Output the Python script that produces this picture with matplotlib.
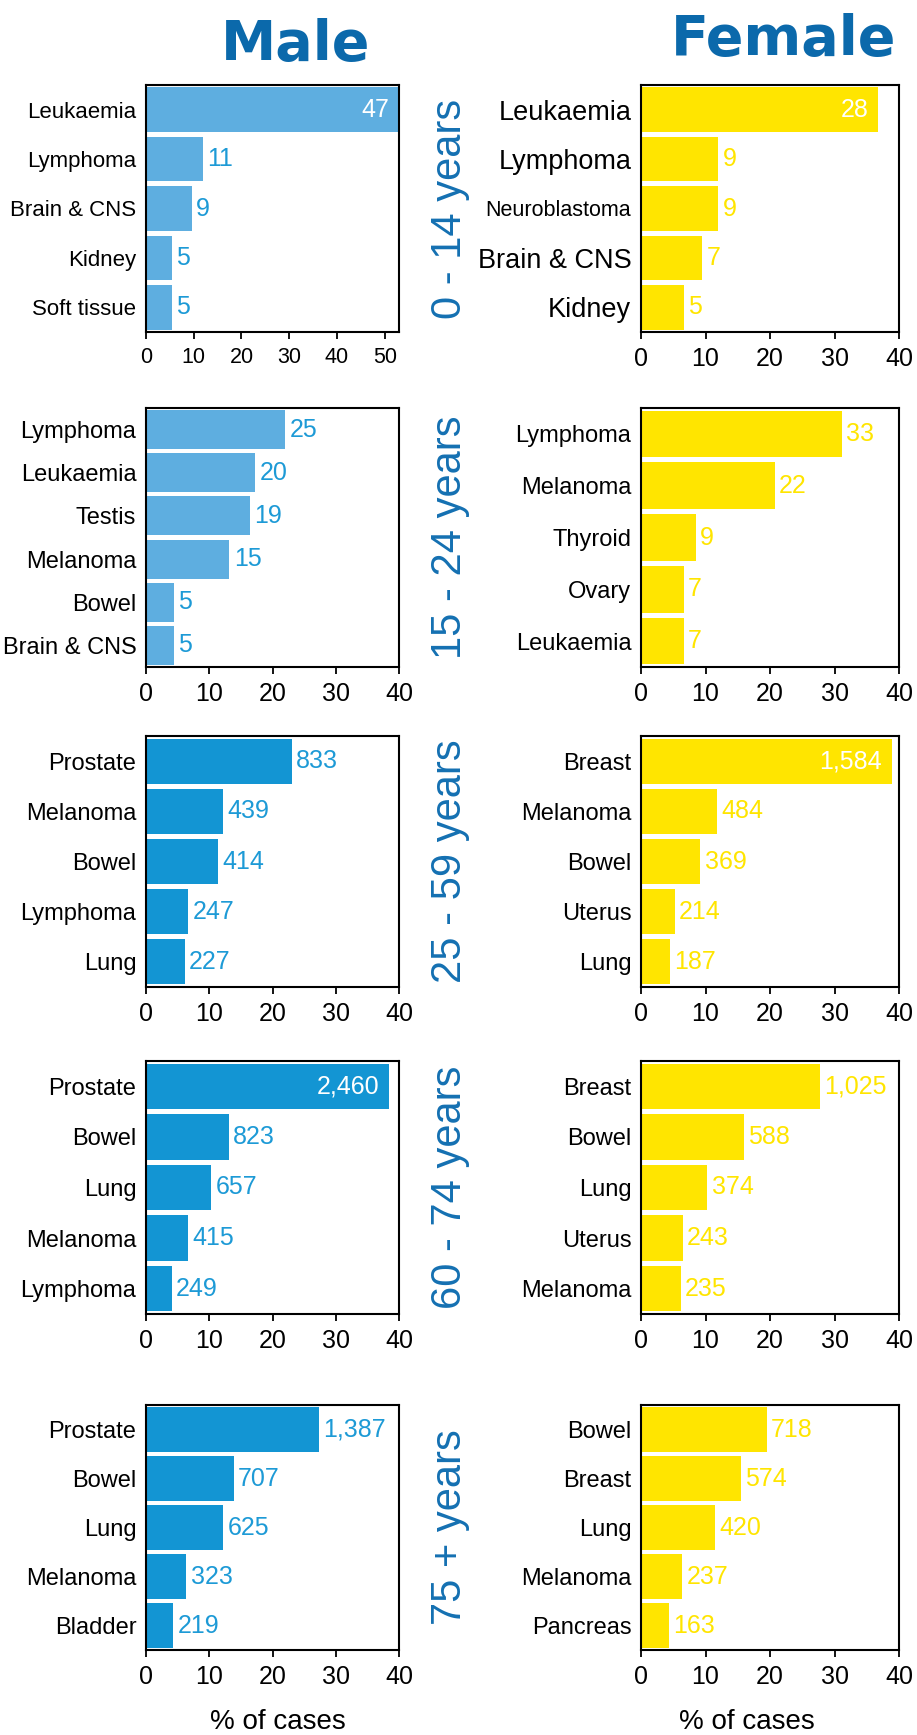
import matplotlib.pyplot as plt
from matplotlib import font_manager

names = {f.name for f in font_manager.fontManager.ttflist}
narrow = 'Liberation Sans Narrow' if 'Liberation Sans Narrow' in names else 'Liberation Sans'
plt.rcParams['font.family'] = 'Liberation Sans'

age_groups = ['0 - 14 years', '15 - 24 years', '25 - 59 years', '60 - 74 years', '75 + years']

# male, per age group: categories, % of cases (bar length), number of cases (label)
male_cats_0_14 = ['Leukaemia', 'Lymphoma', 'Brain & CNS', 'Kidney', 'Soft tissue']
male_pct_0_14 = [54, 11.9, 9.6, 5.4, 5.4]
male_cases_0_14 = ['47', '11', '9', '5', '5']

male_cats_15_24 = ['Lymphoma', 'Leukaemia', 'Testis', 'Melanoma', 'Bowel', 'Brain & CNS']
male_pct_15_24 = [22.0, 17.3, 16.5, 13.2, 4.4, 4.4]
male_cases_15_24 = ['25', '20', '19', '15', '5', '5']

male_cats_25_59 = ['Prostate', 'Melanoma', 'Bowel', 'Lymphoma', 'Lung']
male_pct_25_59 = [23.1, 12.2, 11.4, 6.7, 6.1]
male_cases_25_59 = ['833', '439', '414', '247', '227']

male_cats_60_74 = ['Prostate', 'Bowel', 'Lung', 'Melanoma', 'Lymphoma']
male_pct_60_74 = [38.4, 13.1, 10.3, 6.6, 4.1]
male_cases_60_74 = ['2,460', '823', '657', '415', '249']

male_cats_75 = ['Prostate', 'Bowel', 'Lung', 'Melanoma', 'Bladder']
male_pct_75 = [27.4, 13.9, 12.2, 6.4, 4.3]
male_cases_75 = ['1,387', '707', '625', '323', '219']

# female
female_cats_0_14 = ['Leukaemia', 'Lymphoma', 'Neuroblastoma', 'Brain & CNS', 'Kidney']
female_pct_0_14 = [36.8, 12.0, 12.0, 9.5, 6.6]
female_cases_0_14 = ['28', '9', '9', '7', '5']

female_cats_15_24 = ['Lymphoma', 'Melanoma', 'Thyroid', 'Ovary', 'Leukaemia']
female_pct_15_24 = [31.1, 20.7, 8.5, 6.6, 6.6]
female_cases_15_24 = ['33', '22', '9', '7', '7']

female_cats_25_59 = ['Breast', 'Melanoma', 'Bowel', 'Uterus', 'Lung']
female_pct_25_59 = [38.9, 11.8, 9.2, 5.2, 4.5]
female_cases_25_59 = ['1,584', '484', '369', '214', '187']

female_cats_60_74 = ['Breast', 'Bowel', 'Lung', 'Uterus', 'Melanoma']
female_pct_60_74 = [27.8, 16.0, 10.3, 6.5, 6.2]
female_cases_60_74 = ['1,025', '588', '374', '243', '235']

female_cats_75 = ['Bowel', 'Breast', 'Lung', 'Melanoma', 'Pancreas']
female_pct_75 = [19.5, 15.5, 11.5, 6.4, 4.4]
female_cases_75 = ['718', '574', '420', '237', '163']

male = [
    (male_cats_0_14, male_pct_0_14, male_cases_0_14),
    (male_cats_15_24, male_pct_15_24, male_cases_15_24),
    (male_cats_25_59, male_pct_25_59, male_cases_25_59),
    (male_cats_60_74, male_pct_60_74, male_cases_60_74),
    (male_cats_75, male_pct_75, male_cases_75),
]
female = [
    (female_cats_0_14, female_pct_0_14, female_cases_0_14),
    (female_cats_15_24, female_pct_15_24, female_cases_15_24),
    (female_cats_25_59, female_pct_25_59, female_cases_25_59),
    (female_cats_60_74, female_pct_60_74, female_cases_60_74),
    (female_cats_75, female_pct_75, female_cases_75),
]

W, H = 917, 1735
fig = plt.figure(figsize=(W / 100, H / 100), dpi=100)

rows_px = [(85, 332), (408, 667), (736, 987), (1061, 1314), (1405, 1650)]
cols_px = [(146, 399), (641, 899)]

title_blue = '#0b69ab'
male_light = '#5eaee0'
male_dark = '#1395d3'
male_text = '#1d9ad6'
female_col = '#ffe500'


def draw_panel(box, cats, pct, cases, color, text_color, xmax, cat_font, cat_size, tick_font, tick_size, val_size):
    ax = fig.add_axes(box)
    y = list(range(len(cats)))
    ax.barh(y, pct, height=0.9, color=color)
    ax.set_ylim(len(cats) - 0.5, -0.5)
    ax.set_xlim(0, xmax)
    ax.set_xticks(list(range(0, xmax + 1, 10)))
    ax.set_yticks(y)
    ax.set_yticklabels(cats, fontsize=cat_size, family=cat_font)
    for lbl in ax.get_xticklabels():
        lbl.set_fontsize(tick_size)
        lbl.set_family(tick_font)
    ax.tick_params(axis='y', length=0, pad=7)
    ax.tick_params(axis='x', length=5, width=1.3, pad=6, direction='out')
    for sp in ax.spines.values():
        sp.set_linewidth(1.5)
    for i, (v, t) in enumerate(zip(pct, cases)):
        if v > 0.85 * xmax:
            ax.annotate(t, (min(v, xmax), i), xytext=(-7, 0), textcoords='offset points',
                        ha='right', va='center', color='white', fontsize=val_size)
        else:
            ax.annotate(t, (v, i), xytext=(3, 0), textcoords='offset points',
                        ha='left', va='center', color=text_color, fontsize=val_size)
    return ax


for r, (top, bot) in enumerate(rows_px):
    # male
    cats, pct, cases = male[r]
    l, rr = cols_px[0]
    box = [l / W, 1 - bot / H, (rr - l) / W, (bot - top) / H]
    if r == 0:
        draw_panel(box, cats, pct, cases, male_light, male_text, 53,
                   narrow, 18.5 if narrow != 'Liberation Sans' else 16,
                   narrow, 18 if narrow != 'Liberation Sans' else 15.5, 18)
    else:
        draw_panel(box, cats, pct, cases, male_light if r == 1 else male_dark, male_text, 40,
                   'Liberation Sans', 17, 'Liberation Sans', 18, 18)

    # female
    cats, pct, cases = female[r]
    l, rr = cols_px[1]
    box = [l / W, 1 - bot / H, (rr - l) / W, (bot - top) / H]
    ax = draw_panel(box, cats, pct, cases, female_col, female_col, 40,
                    'Liberation Sans', 19.5 if r == 0 else 17, 'Liberation Sans', 18, 18)
    if r == 0:
        for lbl in ax.get_yticklabels():
            if lbl.get_text() == 'Neuroblastoma':
                lbl.set_family(narrow)
                lbl.set_fontsize(18.5 if narrow != 'Liberation Sans' else 15.5)

    # age group label between columns
    fig.text(450 / W, 1 - (top + bot) / 2 / H, age_groups[r], rotation=90,
             ha='center', va='center', fontsize=30, color='#1470b2')

fig.text(296 / W, 1 - 45 / H, 'Male', ha='center', va='center', fontsize=40,
         fontweight='bold', family='DejaVu Sans', color=title_blue)
fig.text(784 / W, 1 - 40 / H, 'Female', ha='center', va='center', fontsize=40,
         fontweight='bold', family='DejaVu Sans', color=title_blue)

fig.text(278 / W, 1 - 1722 / H, '% of cases', ha='center', va='center', fontsize=20)
fig.text(747 / W, 1 - 1722 / H, '% of cases', ha='center', va='center', fontsize=20)

fig.savefig('out.png', dpi=100)
